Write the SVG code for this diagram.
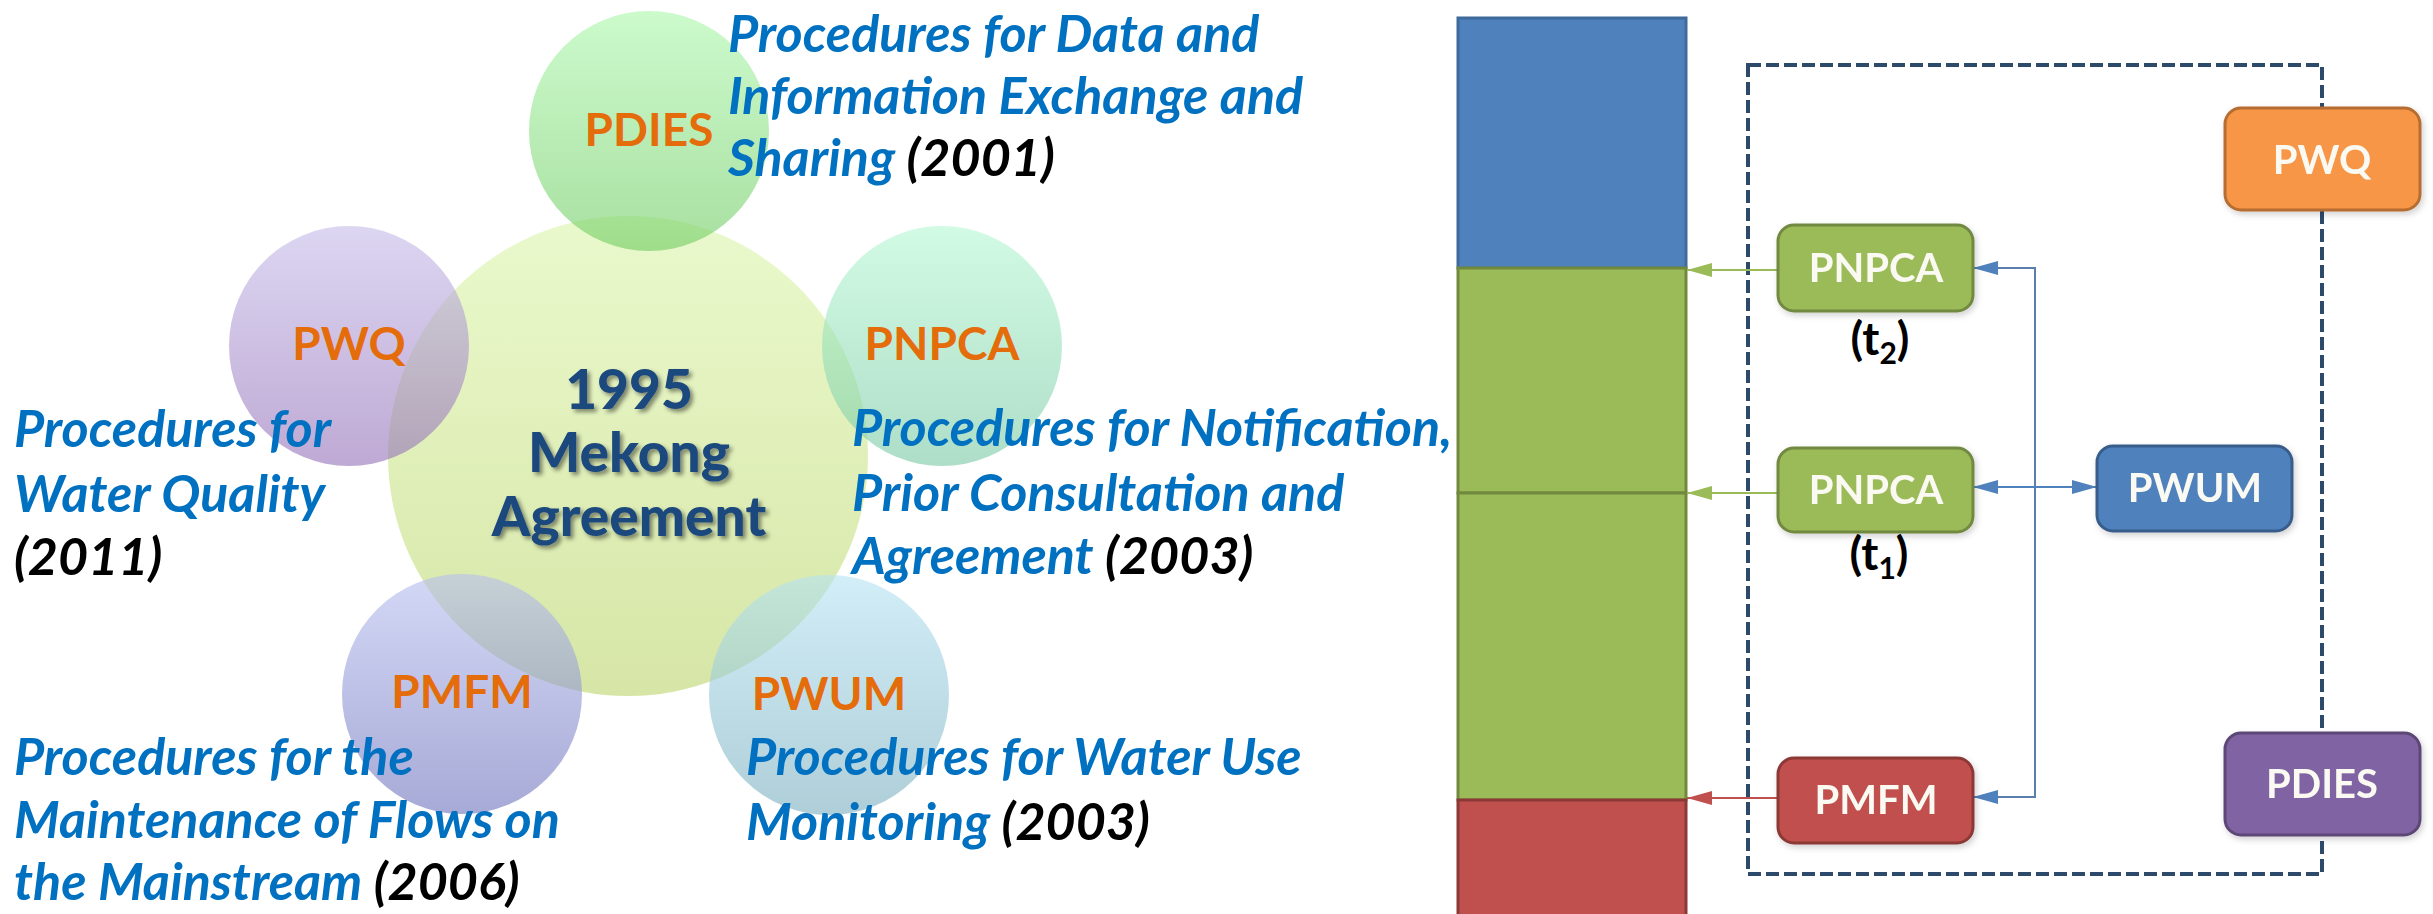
<svg xmlns="http://www.w3.org/2000/svg" width="2433" height="914" viewBox="0 0 2433 914">
<style>
.lbl{font-family:Lato,"Open Sans","Liberation Sans",sans-serif;font-weight:700;font-size:46px;fill:#E46C0A;text-anchor:middle}
.desc{font-family:Lato,"Open Sans","Liberation Sans",sans-serif;font-weight:700;font-style:italic;font-size:52px;fill:#0070C0}
.yr{fill:#000000}
.big{font-family:Lato,"Open Sans","Liberation Sans",sans-serif;font-weight:900;font-size:55px;fill:#1F497D;text-anchor:middle}
.bt{font-family:Lato,"Open Sans","Liberation Sans",sans-serif;font-weight:700;font-size:40px;fill:#FAFAF2;text-anchor:middle}
.tl{font-family:Lato,"Open Sans","Liberation Sans",sans-serif;font-weight:700;font-size:46px;fill:#000000;text-anchor:middle}
.circ{opacity:0.6}
.box{stroke-width:3}
.seg{stroke-width:3}
</style>
<defs>
<linearGradient id="gBig" x1="0" y1="0" x2="0" y2="1"><stop offset="0" stop-color="#DCF5AA"/><stop offset="1" stop-color="#BBD56B"/></linearGradient>
<linearGradient id="gPdies" x1="0" y1="0" x2="0" y2="1"><stop offset="0" stop-color="#AAF7AA"/><stop offset="1" stop-color="#6ECB61"/></linearGradient>
<linearGradient id="gPwq" x1="0" y1="0" x2="0" y2="1"><stop offset="0" stop-color="#C5BBE9"/><stop offset="1" stop-color="#9370B7"/></linearGradient>
<linearGradient id="gPnpca" x1="0" y1="0" x2="0" y2="1"><stop offset="0" stop-color="#B4F7D2"/><stop offset="1" stop-color="#78C8A3"/></linearGradient>
<linearGradient id="gPwum" x1="0" y1="0" x2="0" y2="1"><stop offset="0" stop-color="#B4E3F3"/><stop offset="1" stop-color="#78ADBE"/></linearGradient>
<linearGradient id="gPmfm" x1="0" y1="0" x2="0" y2="1"><stop offset="0" stop-color="#B7BEF0"/><stop offset="1" stop-color="#6B71BB"/></linearGradient>
<filter id="tshadow" x="-10%" y="-20%" width="130%" height="150%"><feDropShadow dx="3" dy="3" stdDeviation="2" flood-color="#000000" flood-opacity="0.45"/></filter>
<filter id="bshadow" x="-10%" y="-10%" width="130%" height="130%"><feDropShadow dx="2" dy="3" stdDeviation="3" flood-color="#000000" flood-opacity="0.18"/></filter>
<marker id="ahG" viewBox="0 0 25 14" refX="25" refY="7" markerWidth="25" markerHeight="14" markerUnits="userSpaceOnUse" orient="auto-start-reverse"><path d="M0,0 L25,7 L0,14 z" fill="#9BBB59"/></marker>
<marker id="ahR" viewBox="0 0 25 14" refX="25" refY="7" markerWidth="25" markerHeight="14" markerUnits="userSpaceOnUse" orient="auto-start-reverse"><path d="M0,0 L25,7 L0,14 z" fill="#C0504D"/></marker>
<marker id="ahB" viewBox="0 0 25 14" refX="25" refY="7" markerWidth="25" markerHeight="14" markerUnits="userSpaceOnUse" orient="auto-start-reverse"><path d="M0,0 L25,7 L0,14 z" fill="#4F81BD"/></marker>
</defs>

<rect width="2433" height="914" fill="#FFFFFF"/>

<!-- LEFT: circles -->
<g id="left-circles">
<g id="node-agreement"><circle class="circ" cx="628" cy="456" r="240" fill="url(#gBig)"/></g>
<g id="node-pdies"><circle class="circ" cx="649" cy="131" r="120" fill="url(#gPdies)"/></g>
<g id="node-pwq"><circle class="circ" cx="349" cy="346" r="120" fill="url(#gPwq)"/></g>
<g id="node-pnpca"><circle class="circ" cx="942" cy="346" r="120" fill="url(#gPnpca)"/></g>
<g id="node-pwum"><circle class="circ" cx="829" cy="695" r="120" fill="url(#gPwum)"/></g>
<g id="node-pmfm"><circle class="circ" cx="462" cy="694" r="120" fill="url(#gPmfm)"/></g>
</g>

<g id="left-labels">
<g id="label-agreement" filter="url(#tshadow)">
<text class="big" x="629" y="409">1995</text>
<text class="big" x="629" y="472">Mekong</text>
<text class="big" x="629" y="536">Agreement</text>
</g>
<text class="lbl" x="649" y="146">PDIES</text>
<text class="lbl" x="349" y="360">PWQ</text>
<text class="lbl" x="942" y="360">PNPCA</text>
<text class="lbl" x="829" y="710">PWUM</text>
<text class="lbl" x="462" y="708">PMFM</text>
</g>

<g id="left-descriptions">
<text class="desc" x="728" y="52">Procedures for Data and</text>
<text class="desc" x="728" y="114">Information Exchange and</text>
<text class="desc" x="728" y="176">Sharing <tspan class="yr">(2001)</tspan></text>

<text class="desc" x="852" y="446">Procedures for Notification,</text>
<text class="desc" x="852" y="511">Prior Consultation and</text>
<text class="desc" x="852" y="574">Agreement <tspan class="yr">(2003)</tspan></text>

<text class="desc" x="746" y="775">Procedures for Water Use</text>
<text class="desc" x="746" y="840">Monitoring <tspan class="yr">(2003)</tspan></text>

<text class="desc" x="14" y="447">Procedures for</text>
<text class="desc" x="14" y="512">Water Quality</text>
<text class="desc yr" x="14" y="575">(2011)</text>

<text class="desc" x="14" y="775">Procedures for the</text>
<text class="desc" x="14" y="838">Maintenance of Flows on</text>
<text class="desc" x="14" y="900">the Mainstream <tspan class="yr">(2006)</tspan></text>
</g>

<!-- RIGHT: bar -->
<g id="node-bar">
<rect class="seg" x="1458" y="18" width="228" height="250" fill="#4F81BD" stroke="#3F6A9C"/>
<rect class="seg" x="1458" y="268" width="228" height="225" fill="#9BBB59" stroke="#71893F"/>
<rect class="seg" x="1458" y="493" width="228" height="307" fill="#9BBB59" stroke="#71893F"/>
<rect class="seg" x="1458" y="800" width="228" height="130" fill="#C0504D" stroke="#8C3836"/>
</g>

<g id="group-boundary">
<rect x="1748" y="65" width="574" height="809" fill="none" stroke="#2E4A6B" stroke-width="4" stroke-dasharray="13 5"/>
</g>

<g id="connectors" fill="none">
<line x1="1778" y1="270" x2="1687" y2="270" stroke="#9BBB59" stroke-width="2" marker-end="url(#ahG)"/>
<line x1="1778" y1="493" x2="1687" y2="493" stroke="#9BBB59" stroke-width="2" marker-end="url(#ahG)"/>
<line x1="1778" y1="798" x2="1687" y2="798" stroke="#C0504D" stroke-width="2" marker-end="url(#ahR)"/>
<path d="M1973,268 H2035 V797 H1973" stroke="#5B7FAC" stroke-width="2" marker-start="url(#ahB)" marker-end="url(#ahB)"/>
<line x1="1973" y1="487" x2="2097" y2="487" stroke="#4F81BD" stroke-width="2" marker-start="url(#ahB)" marker-end="url(#ahB)"/>
</g>

<g id="node-pwq-box" filter="url(#bshadow)">
<rect class="box" x="2225" y="108" width="195" height="102" rx="16" fill="#F79646" stroke="#B66D31"/>
<text class="bt" x="2322" y="174">PWQ</text>
</g>
<g id="node-pnpca-t2" filter="url(#bshadow)">
<rect class="box" x="1778" y="225" width="195" height="86" rx="16" fill="#9BBB59" stroke="#71893F"/>
<text class="bt" x="1876" y="282">PNPCA</text>
</g>
<g id="label-t2"><text class="tl" x="1880" y="355">(t<tspan font-size="30" dy="9">2</tspan><tspan dy="-9">)</tspan></text></g>
<g id="node-pnpca-t1" filter="url(#bshadow)">
<rect class="box" x="1778" y="448" width="195" height="84" rx="16" fill="#9BBB59" stroke="#71893F"/>
<text class="bt" x="1876" y="504">PNPCA</text>
</g>
<g id="label-t1"><text class="tl" x="1879" y="570">(t<tspan font-size="30" dy="9">1</tspan><tspan dy="-9">)</tspan></text></g>
<g id="node-pwum-box" filter="url(#bshadow)">
<rect class="box" x="2097" y="446" width="195" height="85" rx="16" fill="#4F81BD" stroke="#385D8A"/>
<text class="bt" x="2195" y="502">PWUM</text>
</g>
<g id="node-pmfm-box" filter="url(#bshadow)">
<rect class="box" x="1778" y="758" width="195" height="85" rx="16" fill="#C0504D" stroke="#8C3836"/>
<text class="bt" x="1876" y="814">PMFM</text>
</g>
<g id="node-pdies-box" filter="url(#bshadow)">
<rect class="box" x="2225" y="733" width="195" height="102" rx="16" fill="#8064A2" stroke="#5C4776"/>
<text class="bt" x="2322" y="798">PDIES</text>
</g>
</svg>
